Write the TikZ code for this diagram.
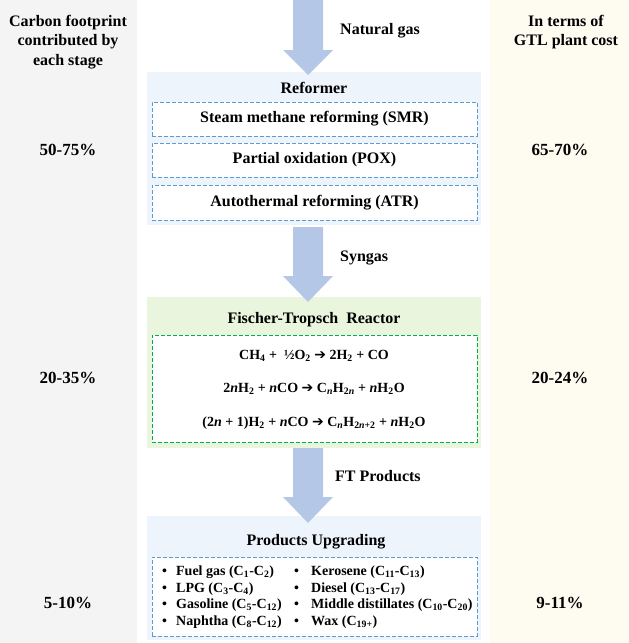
\documentclass[tikz,border=0pt]{standalone}
\usepackage{fontspec}
\setmainfont{Liberation Serif}
\newfontfamily\arrfont{DejaVu Sans}
\definecolor{leftgray}{HTML}{F4F4F4}
\definecolor{rightcream}{HTML}{FEFBF1}
\definecolor{lblue}{HTML}{EDF4FC}
\definecolor{lgreen}{HTML}{EAF5DD}
\definecolor{arrowc}{HTML}{B4C7E7}
\definecolor{dblue}{HTML}{5B9BD5}
\definecolor{dgreen}{HTML}{00B050}
\newcommand\eqarr{{\arrfont\fontsize{14}{14}\selectfont ➔}}
\newcommand\gtlarrow[3]{%
  \fill[arrowc] (293,#1) -- (323,#1) -- (323,#2) -- (333,#2) -- (308,#3) -- (283,#2) -- (293,#2) -- cycle;}
\begin{document}
\begin{tikzpicture}[x=1pt,y=-1pt,
  every node/.style={font=\bfseries\fontsize{16}{19.5}\selectfont, inner sep=0pt},
  stagebox/.style={draw=none, anchor=north west, minimum width=334pt},
  dbox/.style={draw=dblue, dashed, dash pattern=on 4pt off 2pt, line width=1pt, fill=white, minimum width=325pt},
  gbox/.style={draw=dgreen, dashed, dash pattern=on 4pt off 2pt, line width=1pt, fill=white, minimum width=325pt},
  side/.style={align=center},
  pct/.style={font=\bfseries\fontsize{17}{20}\selectfont},
  flowlbl/.style={anchor=west, font=\bfseries\fontsize{16}{18}\selectfont},
  eq/.style={font=\bfseries\fontsize{14}{16}\selectfont},
  items/.style={anchor=west, align=left, font=\bfseries\fontsize{14}{16.7}\selectfont}
]
\useasboundingbox (0,0) rectangle (629,643);
\fill[leftgray] (0,0) rectangle (137,643);
\fill[rightcream] (490,0) rectangle (629,643);

% side texts
\node[side] (lhead) at (68,42) {Carbon footprint\\contributed by\\each stage};
\node[side] (rhead) at (566,32) {In terms of\\GTL plant cost};
\node[pct] (l1) at (68,150) {50-75\%};
\node[pct] (r1) at (560,150) {65-70\%};
\node[pct] (l2) at (68,378) {20-35\%};
\node[pct] (r2) at (560,378) {20-24\%};
\node[pct] (l3) at (68,603) {5-10\%};
\node[pct] (r3) at (560,603) {9-11\%};

% Reformer
\node[stagebox, fill=lblue, minimum height=153pt] (ref) at (147,72) {};
\node (reft) at (314,88) {Reformer};
\node[dbox, minimum height=34pt] (smr) at (314.5,119) {Steam methane reforming (SMR)};
\node[dbox, minimum height=34pt] (pox) at (314.5,160) {Partial oxidation (POX)};
\node[dbox, minimum height=35pt] (atr) at (314.5,202.5) {Autothermal reforming (ATR)};

% FT reactor
\node[stagebox, fill=lgreen, minimum height=151pt] (ft) at (147,297) {};
\node (ftt) at (314,320) {Fischer-Tropsch~ Reactor};
\node[gbox, minimum height=107pt] (ftd) at (314.5,388.5) {};
\node[eq] (eq1) at (314,356) {CH\textsubscript{4} + ~½O\textsubscript{2} \eqarr{} 2H\textsubscript{2} + CO};
\node[eq] (eq2) at (314,389) {2\textit{n}H\textsubscript{2} + \textit{n}CO \eqarr{} C\textsubscript{\textit{n}}H\textsubscript{2\textit{n}} + \textit{n}H\textsubscript{2}O};
\node[eq] (eq3) at (314,423) {(2\textit{n} + 1)H\textsubscript{2} + \textit{n}CO \eqarr{} C\textsubscript{\textit{n}}H\textsubscript{2\textit{n}+2} + \textit{n}H\textsubscript{2}O};

% Products
\node[stagebox, fill=lblue, minimum height=124pt] (pu) at (147,516) {};
\node (put) at (316,542) {Products Upgrading};
\node[dbox, minimum height=79pt] (pud) at (314.5,596.5) {};
\node[items] (colA) at (162,597) {%
  \makebox[14pt][l]{•}Fuel gas (C\textsubscript{1}-C\textsubscript{2})\\
  \makebox[14pt][l]{•}LPG (C\textsubscript{3}-C\textsubscript{4})\\
  \makebox[14pt][l]{•}Gasoline (C\textsubscript{5}-C\textsubscript{12})\\
  \makebox[14pt][l]{•}Naphtha (C\textsubscript{8}-C\textsubscript{12})};
\node[items] (colB) at (294,597) {%
  \makebox[17pt][l]{•}Kerosene (C\textsubscript{11}-C\textsubscript{13})\\
  \makebox[17pt][l]{•}Diesel (C\textsubscript{13}-C\textsubscript{17})\\
  \makebox[17pt][l]{•}Middle distillates (C\textsubscript{10}-C\textsubscript{20})\\
  \makebox[17pt][l]{•}Wax (C\textsubscript{19+})};

% flow arrows
\gtlarrow{0}{50}{75}
\gtlarrow{227}{276}{302}
\gtlarrow{448}{497}{523}
\node[flowlbl] (ng) at (340,31) {Natural gas};
\node[flowlbl] (sg) at (340,258) {Syngas};
\node[flowlbl] (ftp) at (335,476) {FT Products};
\end{tikzpicture}
\end{document}
